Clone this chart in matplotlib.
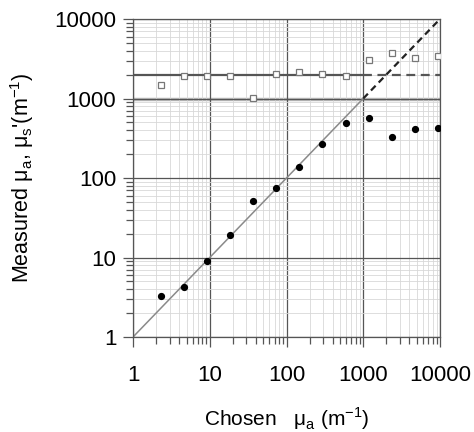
import numpy as np
import matplotlib.pyplot as plt
from matplotlib.ticker import LogLocator, FixedLocator, NullFormatter

plt.rcParams['font.family'] = ['Liberation Sans', 'DejaVu Sans']
plt.rcParams['mathtext.fontset'] = 'custom'
plt.rcParams['mathtext.rm'] = 'Liberation Sans'

# valores
chosen = [2.3, 4.6, 9.2, 18.4, 36.8, 73.6, 147, 294, 589, 1178, 2355, 4710, 9420]
mua_meas = [3.3, 4.3, 9.0, 19, 51, 75, 137, 267, 490, 570, 330, 415, 425]
mus_meas = [1480, 1900, 1900, 1900, 1010, 2040, 2150, 2040, 1900, 3050, 3700, 3230, 3400]
mus_set = 2000      # linea de referencia mu_s'
mua_limit = 1000    # limite
ticks = [1, 10, 100, 1000, 10000]
tick_labels = ['1', '10', '100', '1000', '10000']

fig = plt.figure(figsize=(4.74, 4.32), dpi=100)
ax = fig.add_axes([0.2806, 0.2199, 0.6477, 0.7361])
ax.set_xscale('log')
ax.set_yscale('log')
ax.set_xlim(1, 10000)
ax.set_ylim(1, 10000)

ax.grid(which='minor', color='#d8d8d8', lw=0.6, zorder=0)
ax.grid(which='major', color='#555555', lw=0.9, zorder=0.5)

# lineas de referencia
ax.plot([1, mua_limit], [mus_set, mus_set], color='#555555', lw=1.6, zorder=2)
ax.plot([mua_limit, 10000], [mus_set, mus_set], color='#555555', lw=1.6, ls=(0, (4, 2.5)), zorder=2)
ax.plot([1, 10000], [mua_limit, mua_limit], color='#bdbdbd', lw=2.5, zorder=1.5)
ax.plot([1, mua_limit], [1, mua_limit], color='#8a8a8a', lw=1.1, zorder=2)
ax.plot([mua_limit, 10000], [mua_limit, 10000], color='#222222', lw=1.6, ls=(0, (3, 2)), zorder=2)

ax.plot(chosen, mus_meas, ls='none', marker='s', ms=4.0, mfc='white', mec='#777777', mew=0.9, zorder=3)
ax.plot(chosen, mua_meas, ls='none', marker='o', ms=4.2, color='black', zorder=3)

ax.xaxis.set_major_locator(FixedLocator(ticks))
ax.yaxis.set_major_locator(FixedLocator(ticks))
ax.set_xticklabels(tick_labels)
ax.set_yticklabels(tick_labels)
ax.xaxis.set_minor_locator(LogLocator(base=10, subs=np.arange(2, 10), numticks=20))
ax.yaxis.set_minor_locator(LogLocator(base=10, subs=np.arange(2, 10), numticks=20))
ax.xaxis.set_minor_formatter(NullFormatter())
ax.yaxis.set_minor_formatter(NullFormatter())

ax.tick_params(which='both', direction='out', top=False, right=False, color='#555555', width=0.9)
ax.tick_params(which='major', length=7, labelsize=16, pad=13)
ax.tick_params(which='minor', length=5)
ax.tick_params(axis='y', which='major', pad=5)

for s in ax.spines.values():
    s.set_color('#555555')
    s.set_linewidth(0.9)

ax.set_xlabel('Chosen   μ$_\\mathrm{a}$ (m$^{\\mathrm{-1}}$)', fontsize=15, labelpad=14)
ax.set_ylabel("Measured μ$_\\mathrm{a}$, μ$_\\mathrm{s}$'(m$^{\\mathrm{-1}}$)", fontsize=15.5, labelpad=13)

fig.savefig('out.png', dpi=100)
